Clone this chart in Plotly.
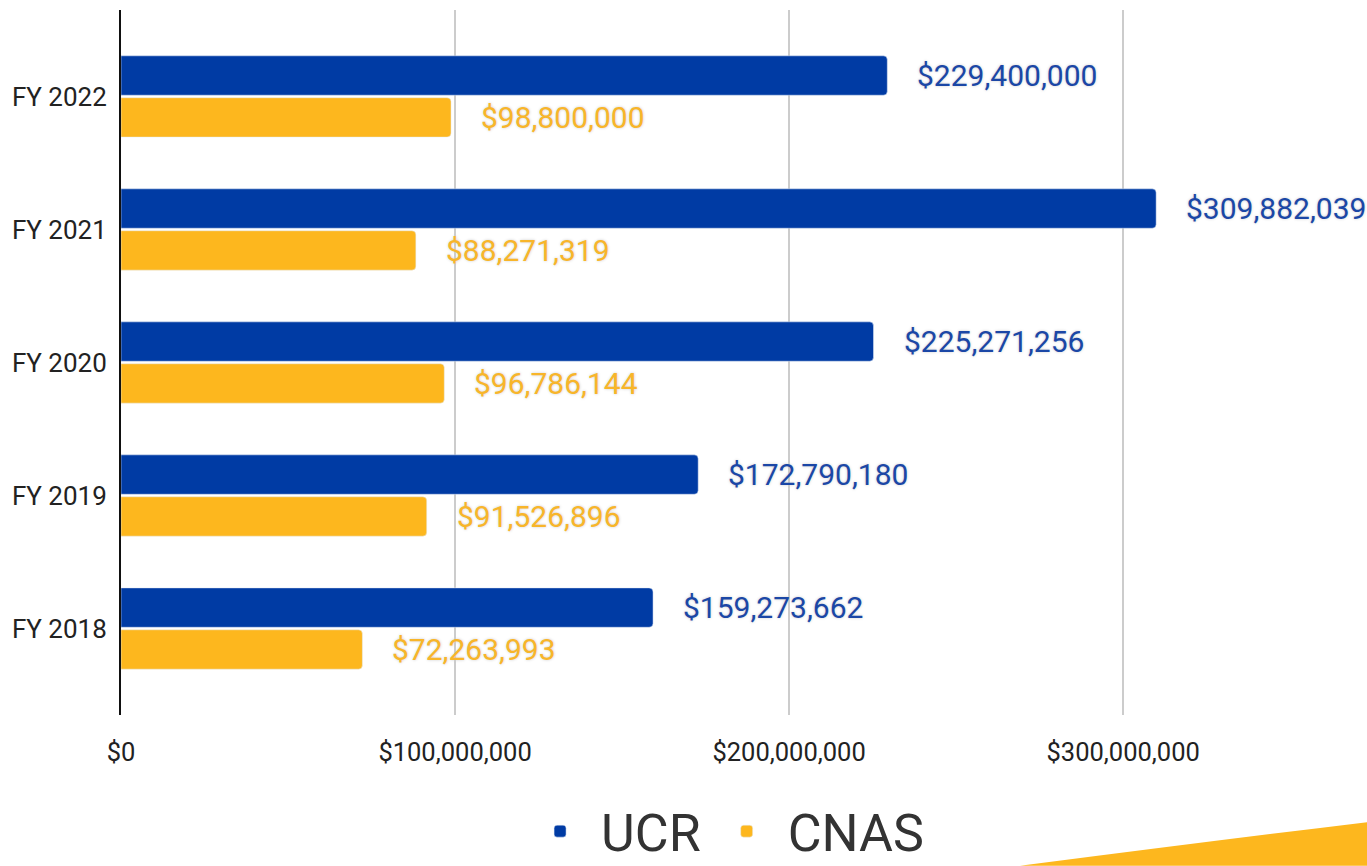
import plotly.graph_objects as go

categories = ["FY 2022", "FY 2021", "FY 2020", "FY 2019", "FY 2018"]
ucr_values = [229400000, 309882039, 225271256, 172790180, 159273662]
cnas_values = [98800000, 88271319, 96786144, 91526896, 72263993]
x_tickvals = [0, 100000000, 200000000, 300000000]
x_ticktext = ["$0", "$100,000,000", "$200,000,000", "$300,000,000"]

BLUE = "#003BA4"
YELLOW = "#FDB71E"
BLUE_TXT = "#1B47A6"
YELLOW_TXT = "#F8B52A"
FONT = "Roboto, sans-serif"

fig = go.Figure()
fig.add_trace(go.Bar(name="UCR", y=categories, x=ucr_values, orientation="h",
                     marker=dict(color=BLUE, cornerradius=4)))
fig.add_trace(go.Bar(name="CNAS", y=categories, x=cnas_values, orientation="h",
                     marker=dict(color=YELLOW, cornerradius=4)))

annotations = []
for c, v in zip(categories, ucr_values):
    annotations.append(dict(x=v, y=c, xref="x", yref="y", text=f"${v:,}", showarrow=False,
                            xanchor="left", xshift=28, yshift=21,
                            font=dict(family=FONT, size=30, color=BLUE_TXT,
                                      shadow="0px 0px 3px #cccccc")))
for c, v in zip(categories, cnas_values):
    annotations.append(dict(x=v, y=c, xref="x", yref="y", text=f"${v:,}", showarrow=False,
                            xanchor="left", xshift=28, yshift=-21,
                            font=dict(family=FONT, size=30, color=YELLOW_TXT,
                                      shadow="0px 0px 3px #cccccc")))

fig.update_layout(
    width=1367, height=866,
    margin=dict(l=121, r=0, t=10, b=151, autoexpand=False),
    paper_bgcolor="white", plot_bgcolor="white",
    barmode="group", bargap=0.37, bargroupgap=0.06,
    annotations=annotations,
    showlegend=True,
    legend=dict(orientation="h", x=0.484, xanchor="center", y=-0.165, yanchor="middle",
                font=dict(family=FONT, size=52, color="#333333"),
                itemwidth=72, traceorder="normal", bgcolor="rgba(0,0,0,0)"),
    shapes=[dict(type="path", xref="paper", yref="paper",
                 path="M 0.7215,-0.214 Q 0.87,-0.18 1.0,-0.152 L 1.0,-0.214 Z",
                 fillcolor=YELLOW, line=dict(width=0), layer="below")],
)
fig.update_xaxes(range=[0, 373000000], tickvals=x_tickvals, ticktext=x_ticktext,
                 showgrid=True, gridcolor="#CCCCCC", gridwidth=2, zeroline=False,
                 tickfont=dict(family=FONT, size=25.5, color="#222222"),
                 ticklabelstandoff=19, showline=False)
fig.update_yaxes(type="category", categoryorder="array", categoryarray=categories,
                 range=[4.65, -0.65], showgrid=False, showline=True, linecolor="#111111",
                 linewidth=2, tickfont=dict(family=FONT, size=26, color="#222222"),
                 ticklabelstandoff=7)

fig.write_html("out.html", config={"displayModeBar": False},
               post_script="document.body.style.margin='0';document.body.style.overflow='hidden';")
